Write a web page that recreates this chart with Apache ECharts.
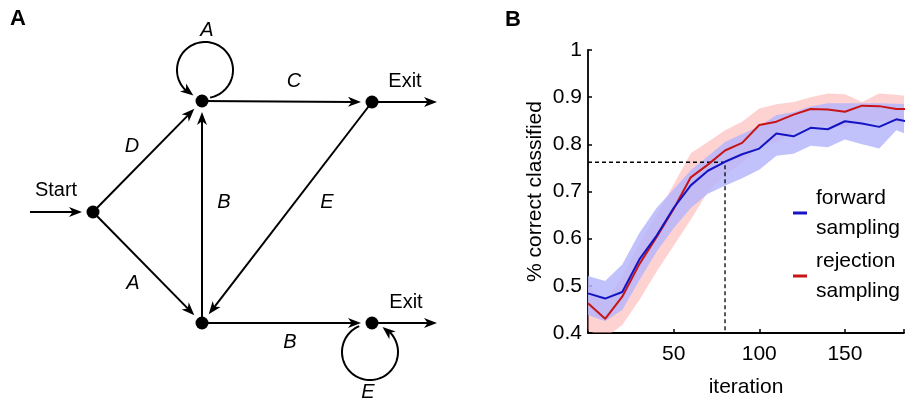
<!DOCTYPE html>
<html>
<head>
<meta charset="utf-8">
<script src="https://cdn.jsdelivr.net/npm/echarts@6/dist/echarts.min.js"></script>
<style>
html,body{margin:0;padding:0;background:#fff;}
#chart{width:907px;height:404px;}
</style>
</head>
<body>
<div id="chart"></div>
<script>
// ---------- Panel A: diagram data ----------
const nodeNames = ['Start', 'Top', 'Bottom', 'ExitTop', 'ExitBottom', 'In', 'OutTop', 'OutBottom'];
const nodeX = [93, 202, 202, 372, 372, 30, 437, 437];
const nodeY = [212, 101, 323, 102, 323, 212, 102, 323];
const nodeVisible = [true, true, true, true, true, false, false, false];
const edgeFrom = ['In', 'Start', 'Start', 'Bottom', 'Top', 'ExitTop', 'Bottom', 'ExitTop', 'ExitBottom'];
const edgeTo = ['Start', 'Top', 'Bottom', 'Top', 'ExitTop', 'Bottom', 'ExitBottom', 'OutTop', 'OutBottom'];
const edgeLabels = ['', 'D', 'A', 'B', 'C', 'E', 'B', '', ''];
const edgeLabelX = [0, 132, 133, 224, 294, 327, 290, 0, 0];
const edgeLabelY = [0, 146, 283, 202, 81, 202, 342, 0, 0];
const loopNode = ['Top', 'ExitBottom'];
const loopLabels = ['A', 'E'];
const loopCenterX = [205, 370];
const loopCenterY = [70, 352];
const loopRadius = [28, 28];
const loopStartDeg = [79.5, 247.4];
const loopEndDeg = [-245.4, -63.4];
const loopLabelX = [207, 368];
const loopLabelY = [30, 392];
const nodeTextLabels = ['Start', 'Exit', 'Exit'];
const nodeTextX = [56, 405, 406];
const nodeTextY = [190, 81, 302];

// ---------- Panel B: chart data ----------
const iterations = [0, 10, 20, 30, 40, 50, 60, 70, 80, 90, 100, 110, 120, 130, 140, 150, 160, 170, 180, 190];
const forwardMean = [0.484, 0.473, 0.487, 0.556, 0.606, 0.665, 0.713, 0.744, 0.763, 0.779, 0.791, 0.823, 0.817, 0.835, 0.832, 0.849, 0.844, 0.837, 0.853, 0.846];
const forwardLow  = [0.438, 0.425, 0.449, 0.512, 0.572, 0.622, 0.665, 0.695, 0.712, 0.728, 0.746, 0.776, 0.780, 0.797, 0.794, 0.810, 0.800, 0.791, 0.830, 0.816];
const forwardHigh = [0.521, 0.510, 0.545, 0.612, 0.665, 0.705, 0.745, 0.775, 0.805, 0.822, 0.838, 0.862, 0.868, 0.880, 0.887, 0.887, 0.887, 0.887, 0.886, 0.885];
const rejectionMean = [0.463, 0.430, 0.477, 0.546, 0.603, 0.663, 0.730, 0.757, 0.787, 0.803, 0.841, 0.848, 0.863, 0.875, 0.874, 0.869, 0.882, 0.881, 0.875, 0.875];
const rejectionLow  = [0.405, 0.390, 0.417, 0.470, 0.530, 0.585, 0.640, 0.700, 0.735, 0.760, 0.795, 0.805, 0.825, 0.840, 0.840, 0.835, 0.850, 0.850, 0.845, 0.845];
const rejectionHigh = [0.500, 0.465, 0.520, 0.590, 0.650, 0.715, 0.781, 0.805, 0.830, 0.848, 0.876, 0.885, 0.890, 0.900, 0.908, 0.906, 0.890, 0.908, 0.905, 0.900];
const thresholdIteration = 80;
const thresholdAccuracy = 0.762;
const xTickLabels = ['50', '100', '150'];
const yTickLabels = ['0.4', '0.5', '0.6', '0.7', '0.8', '0.9', '1'];
const seriesNames = ['forward sampling', 'rejection sampling'];

// ---------- styles ----------
const FONT = 'Liberation Sans, Arial, Helvetica, sans-serif';
const BLUE = '#1414c4';
const RED = '#c81414';
const ARROW_LEN = 13, ARROW_HALF = 5, END_PAD = 11, LINE_W = 2;

function nodeIdx(n) { return nodeNames.indexOf(n); }

function arrowHead(tip, ux, uy) {
  const nx = -uy, ny = ux;
  return {
    type: 'polygon',
    shape: { points: [
      tip,
      [tip[0] - ux * ARROW_LEN + nx * ARROW_HALF, tip[1] - uy * ARROW_LEN + ny * ARROW_HALF],
      [tip[0] - ux * ARROW_LEN * 0.72, tip[1] - uy * ARROW_LEN * 0.72],
      [tip[0] - ux * ARROW_LEN - nx * ARROW_HALF, tip[1] - uy * ARROW_LEN - ny * ARROW_HALF]
    ] },
    style: { fill: '#000' }
  };
}

const edgeData = edgeFrom.map((f, i) => {
  const a = nodeIdx(f), b = nodeIdx(edgeTo[i]);
  return [nodeX[a], nodeY[a], nodeX[b], nodeY[b], nodeVisible[b] ? 1 : 0];
});
const loopData = loopNode.map((n, i) => [loopCenterX[i], loopCenterY[i], loopRadius[i], loopStartDeg[i], loopEndDeg[i]]);
const nodeData = nodeNames.map((n, i) => [nodeX[i], nodeY[i]]).filter((d, i) => nodeVisible[i]);
const italicLabelData = [];
edgeLabels.forEach((t, i) => { if (t) italicLabelData.push([edgeLabelX[i], edgeLabelY[i], t]); });
loopLabels.forEach((t, i) => italicLabelData.push([loopLabelX[i], loopLabelY[i], t]));
const plainLabelData = nodeTextLabels.map((t, i) => [nodeTextX[i], nodeTextY[i], t]);

const pairs = (ys) => iterations.map((x, i) => [x, ys[i]]);

// band drawn as a single polygon through the axis scales
function bandSeries(low, high, fill) {
  return {
    type: 'custom', xAxisIndex: 1, yAxisIndex: 1, silent: true,
    encode: { x: 0, y: [1, 2] },
    data: iterations.map((x, i) => [x, low[i], high[i]]),
    renderItem: (params, api) => {
      if (params.dataIndex !== 0) return null;
      const pts = [];
      for (let i = 0; i < iterations.length; i++) pts.push(api.coord([iterations[i], high[i]]));
      for (let i = iterations.length - 1; i >= 0; i--) pts.push(api.coord([iterations[i], low[i]]));
      const cs = params.coordSys;
      return {
        type: 'group',
        clipPath: { type: 'rect', shape: { x: cs.x, y: cs.y, width: cs.width, height: cs.height } },
        children: [{ type: 'polygon', shape: { points: pts }, style: { fill: fill } }]
      };
    }
  };
}

const chart = echarts.init(document.getElementById('chart'), null, { renderer: 'canvas' });

chart.setOption({
  backgroundColor: '#fff',
  animation: false,
  title: [
    { text: 'A', left: 5, top: 3, textStyle: { fontFamily: FONT, fontSize: 22, fontWeight: 'bold', color: '#000' } },
    { text: 'B', left: 500, top: 4, textStyle: { fontFamily: FONT, fontSize: 22, fontWeight: 'bold', color: '#000' } }
  ],
  grid: [
    { left: 0, top: 0, width: 460, height: 404, show: false },
    { left: 588, top: 50, right: 0, height: 283, show: false }
  ],
  xAxis: [
    { gridIndex: 0, type: 'value', min: 0, max: 460, show: false },
    {
      gridIndex: 1, type: 'value', min: 0, max: 184.5, interval: 50,
      axisLine: { show: true, lineStyle: { color: '#000', width: 1.8 } },
      axisTick: { show: true, inside: true, length: 4, lineStyle: { color: '#000', width: 1.5 } },
      splitLine: { show: false },
      axisLabel: {
        margin: 11, color: '#000', fontFamily: FONT, fontSize: 21,
        formatter: v => (xTickLabels.indexOf(String(v)) >= 0 ? String(v) : '')
      },
      name: 'iteration', nameLocation: 'middle', nameGap: 44,
      nameTextStyle: { color: '#000', fontFamily: FONT, fontSize: 21 }
    }
  ],
  yAxis: [
    { gridIndex: 0, type: 'value', min: 0, max: 404, inverse: true, show: false },
    {
      gridIndex: 1, type: 'value', min: 0.4, max: 1, interval: 0.1,
      axisLine: { show: true, lineStyle: { color: '#000', width: 1.8 } },
      axisTick: { show: true, inside: true, length: 4, lineStyle: { color: '#000', width: 1.5 } },
      splitLine: { show: false },
      axisLabel: {
        margin: 6, color: '#000', fontFamily: FONT, fontSize: 21,
        formatter: v => yTickLabels[Math.round((v - 0.4) * 10)] || ''
      },
      name: '% correct classified', nameLocation: 'middle', nameGap: 42, nameRotate: 90,
      nameTextStyle: { color: '#000', fontFamily: FONT, fontSize: 21 }
    }
  ],
  legend: {
    data: seriesNames,
    orient: 'vertical', left: 788, top: 178,
    icon: 'rect', itemWidth: 14, itemHeight: 3, itemGap: 3,
    formatter: n => n.replace(' ', '\n'),
    textStyle: { color: '#000', fontFamily: FONT, fontSize: 21, lineHeight: 30, padding: [0, 0, 0, 4] }
  },
  series: [
    // ----- diagram -----
    {
      type: 'custom', xAxisIndex: 0, yAxisIndex: 0, silent: true,
      encode: { x: [0, 2], y: [1, 3] },
      data: edgeData,
      renderItem: (params, api) => {
        const a = api.coord([api.value(0), api.value(1)]);
        const b = api.coord([api.value(2), api.value(3)]);
        const pad = api.value(4) ? END_PAD : 0;
        const dx = b[0] - a[0], dy = b[1] - a[1];
        const len = Math.hypot(dx, dy);
        const ux = dx / len, uy = dy / len;
        const tip = [b[0] - ux * pad, b[1] - uy * pad];
        const base = [tip[0] - ux * ARROW_LEN * 0.7, tip[1] - uy * ARROW_LEN * 0.7];
        return {
          type: 'group',
          children: [
            { type: 'line', shape: { x1: a[0], y1: a[1], x2: base[0], y2: base[1] }, style: { stroke: '#000', lineWidth: LINE_W } },
            arrowHead(tip, ux, uy)
          ]
        };
      }
    },
    {
      type: 'custom', xAxisIndex: 0, yAxisIndex: 0, silent: true,
      encode: { x: 0, y: 1 },
      data: loopData,
      renderItem: (params, api) => {
        const c = api.coord([api.value(0), api.value(1)]);
        const r = api.size([api.value(2), api.value(2)])[0];
        const a0 = api.value(3) * Math.PI / 180, a1 = api.value(4) * Math.PI / 180;
        const dir = a1 < a0 ? -1 : 1;
        const cut = (ARROW_LEN * 0.7) / r;
        const aEnd = a1 - dir * cut;
        const pts = [];
        const n = 80;
        for (let k = 0; k <= n; k++) {
          const t = a0 + (aEnd - a0) * k / n;
          pts.push([c[0] + r * Math.cos(t), c[1] + r * Math.sin(t)]);
        }
        const tip = [c[0] + r * Math.cos(a1), c[1] + r * Math.sin(a1)];
        const back = a1 - dir * (ARROW_LEN / r);
        const bp = [c[0] + r * Math.cos(back), c[1] + r * Math.sin(back)];
        const dx = tip[0] - bp[0], dy = tip[1] - bp[1], l = Math.hypot(dx, dy);
        return {
          type: 'group',
          children: [
            { type: 'polyline', shape: { points: pts }, style: { stroke: '#000', lineWidth: LINE_W, fill: null } },
            arrowHead(tip, dx / l, dy / l)
          ]
        };
      }
    },
    {
      type: 'scatter', xAxisIndex: 0, yAxisIndex: 0, silent: true,
      symbol: 'circle', symbolSize: 13, itemStyle: { color: '#000', opacity: 1 },
      data: nodeData, z: 5
    },
    {
      type: 'scatter', xAxisIndex: 0, yAxisIndex: 0, silent: true,
      symbolSize: 0, data: italicLabelData, itemStyle: { opacity: 1 },
      label: { show: true, position: 'inside', formatter: p => p.value[2], color: '#000', opacity: 1, fontFamily: FONT, fontSize: 20, fontStyle: 'italic' }
    },
    {
      type: 'scatter', xAxisIndex: 0, yAxisIndex: 0, silent: true,
      symbolSize: 0, data: plainLabelData, itemStyle: { opacity: 1 },
      label: { show: true, position: 'inside', formatter: p => p.value[2], color: '#000', opacity: 1, fontFamily: FONT, fontSize: 20 }
    },
    // ----- chart bands -----
    bandSeries(rejectionLow, rejectionHigh, 'rgba(255,165,165,0.5)'),
    bandSeries(forwardLow, forwardHigh, 'rgba(182,182,250,0.85)'),
    // ----- threshold dashed lines -----
    {
      type: 'line', xAxisIndex: 1, yAxisIndex: 1, symbol: 'none', silent: true,
      lineStyle: { color: '#000', width: 1.3, type: [4, 3] },
      data: [[0, thresholdAccuracy], [thresholdIteration, thresholdAccuracy], [thresholdIteration, 0.4]]
    },
    // ----- mean lines -----
    {
      name: seriesNames[1], type: 'line', xAxisIndex: 1, yAxisIndex: 1, symbol: 'none',
      color: RED, lineStyle: { color: RED, width: 2 }, data: pairs(rejectionMean)
    },
    {
      name: seriesNames[0], type: 'line', xAxisIndex: 1, yAxisIndex: 1, symbol: 'none',
      color: BLUE, lineStyle: { color: BLUE, width: 2 }, data: pairs(forwardMean)
    }
  ]
});
</script>
</body>
</html>
